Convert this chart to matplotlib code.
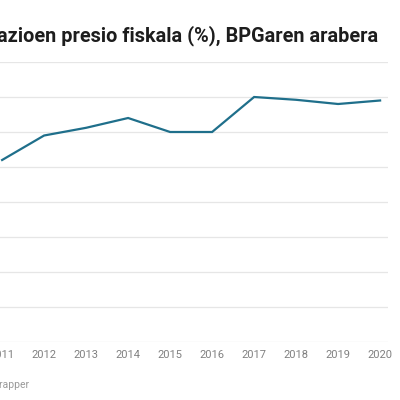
import matplotlib.pyplot as plt

# presio fiskala (%), BPGaren arabera
years = [2011, 2012, 2013, 2014, 2015, 2016, 2017, 2018, 2019, 2020]
values = [26.0, 29.5, 30.6, 32.0, 30.0, 30.0, 35.0, 34.6, 34.0, 34.5]
yticks = [0, 5, 10, 15, 20, 25, 30, 35, 40]

title = 'azioen presio fiskala (%), BPGaren arabera'
footer = 'Created with Datawrapper'

W = 400.0
fig = plt.figure(figsize=(4, 4), dpi=100)
plt.rcParams['font.family'] = ['Roboto', 'DejaVu Sans']

# axes run past the left edge, the picture is a crop
left_px, right_px = -30.0, 388.0
ax = fig.add_axes([left_px / W, 58 / W, (right_px - left_px) / W, 280 / W])
px_per_year = 42.5
x0 = 2011 - (2.5 - left_px) / px_per_year
x1 = 2020 + (right_px - 380) / px_per_year
ax.set_xlim(x0, x1)
ax.set_ylim(0, 40)

for y in yticks:
    ax.axhline(y, color='#e6e6e6', lw=0.9, zorder=1)

ax.plot(years, values, color='#1f6f8b', lw=1.6, zorder=3, solid_joinstyle='miter')

for s in ax.spines.values():
    s.set_visible(False)
ax.set_yticks([])
ax.set_xticks(years)
ax.set_xticklabels([str(y) for y in years], color='#808080', fontsize=8)
ax.tick_params(axis='x', length=0, pad=6)
ax.set_facecolor('none')

fig.text(378 / W, 1 - 36 / W, title, ha='right', va='center',
         fontsize=14.3, fontweight='bold', color='#1d1d1d')
fig.text(29 / W, 1 - 385 / W, footer, ha='right', va='center',
         fontsize=7.5, color='#9a9a9a')

fig.savefig('out.png', dpi=100)
